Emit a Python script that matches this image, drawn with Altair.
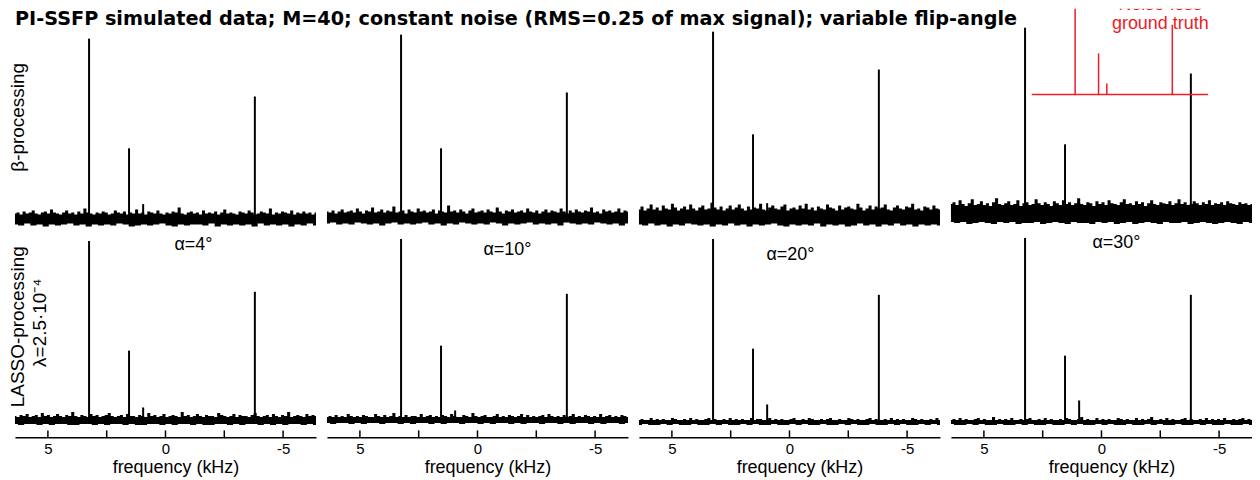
import altair as alt
import numpy as np
import pandas as pd

FONT = "Liberation Sans"
RED = "#ed1c24"

TITLE = "PI-SSFP simulated data; M=40; constant noise (RMS=0.25 of max signal); variable flip-angle"
ALPHAS = ["α=4°", "α=10°", "α=20°", "α=30°"]
ROW_TOP = "β-processing"
ROW_BOT_1 = "LASSO-processing"
ROW_BOT_2 = "λ=2.5·10⁻⁴"
X_TITLE = "frequency (kHz)"
X_LABELS = [5, 0, -5]
X_TICKS = [5, 2.5, 0, -2.5, -5]
F_LEFT, F_RIGHT = 6.4, -6.4

# peak frequencies (kHz)
PEAK_FREQ = [3.25, 1.55, 0.95, -3.8]
# noise-less ground truth amplitudes (inset, arbitrary units)
TRUTH_AMP = [115, 41, 11, 70]
TRUTH_TEXT = ["Noise-less", "ground truth"]

# beta-processing row (arbitrary units)
TOP_BASE = [9.5, 10.5, 10.5, 14]
TOP_PEAKS = [[190, 80, 24, 132], [194, 80, 16, 136], [197, 94, 25, 159], [201, 84, 26, 155]]
# LASSO row
BOT_BASE = [7.5, 7.5, 5.5, 5.5]
BOT_PEAKS = [[187, 77, 20, 136], [189, 82, 17, 134], [189, 79, 23, 133], [190, 72, 27, 133]]

# noise envelopes: upper excursion above baseline
TOP_HI = [
    [5, 6, 4, 7, 5, 6, 8, 5, 4, 6, 7, 5, 9, 6, 5, 4, 6, 8, 5, 6, 4, 7, 5, 10, 6, 5, 4, 6, 5, 7,
     6, 4, 5, 8, 6, 5, 7, 4, 6, 5, 9, 5, 6, 4, 7, 6, 5, 8, 5, 4, 6, 5, 7, 6, 11, 5, 4, 6, 7, 5,
     6, 4, 8, 5, 6, 5, 7, 4, 6, 9, 5, 6, 5, 4, 7, 6, 5, 8, 6, 4, 5, 7, 6, 5, 10, 4, 6, 5, 7, 6,
     5, 8, 4, 6, 5, 7, 5, 6, 4, 6],
    [6, 5, 7, 4, 6, 8, 5, 6, 7, 5, 9, 6, 4, 7, 6, 10, 5, 6, 8, 5, 7, 6, 11, 5, 6, 7, 4, 8, 6, 5,
     9, 6, 7, 5, 6, 8, 4, 7, 6, 5, 12, 6, 7, 5, 8, 6, 4, 7, 9, 5, 6, 7, 5, 8, 6, 5, 10, 6, 4, 7,
     6, 8, 5, 6, 7, 5, 9, 6, 5, 7, 4, 6, 8, 5, 7, 6, 5, 9, 6, 4, 7, 5, 8, 6, 5, 7, 6, 10, 5, 6,
     4, 8, 6, 7, 5, 6, 9, 5, 7, 6],
    [8, 11, 7, 9, 13, 8, 10, 7, 12, 9, 8, 14, 10, 7, 9, 11, 8, 13, 9, 7, 10, 12, 8, 9, 15, 10, 8, 11, 7, 9,
     12, 8, 10, 13, 9, 7, 11, 8, 10, 9, 14, 8, 7, 10, 12, 9, 8, 11, 13, 7, 9, 10, 8, 12, 9, 14, 8, 10, 7, 11,
     9, 8, 13, 10, 9, 7, 12, 8, 10, 11, 9, 8, 14, 10, 7, 9, 12, 8, 11, 9, 10, 13, 8, 7, 10, 12, 9, 8, 11, 10,
     14, 8, 9, 7, 11, 10, 8, 12, 9, 8],
    [10, 12, 9, 14, 10, 8, 11, 15, 9, 10, 13, 9, 11, 8, 12, 16, 10, 9, 11, 13, 9, 10, 14, 8, 11, 12, 9, 10, 15, 11,
     9, 12, 10, 8, 13, 11, 9, 14, 10, 12, 9, 11, 16, 10, 9, 12, 11, 8, 13, 10, 12, 9, 14, 11, 10, 9, 12, 15, 10, 11,
     9, 13, 10, 12, 8, 11, 14, 10, 9, 12, 11, 10, 13, 9, 11, 15, 10, 12, 9, 10, 13, 11, 9, 12, 10, 14, 9, 11, 10, 12,
     9, 13, 11, 10, 9, 12, 10, 11, 9, 10],
]
# noise envelopes: lower excursion below baseline
TOP_LO = [
    [6, 7, 5, 7, 6, 8, 6, 7, 6, 5, 7, 6, 8, 6, 7, 6, 7, 5, 6, 8, 7, 6, 7, 6, 5,
     7, 8, 6, 7, 6, 6, 7, 5, 8, 6, 7, 6, 7, 6, 8, 5, 7, 6, 7, 6, 8, 6, 7, 5, 7],
    [6, 5, 7, 6, 7, 5, 6, 7, 6, 8, 6, 5, 7, 6, 7, 6, 5, 7, 6, 8, 6, 7, 5, 6, 7,
     6, 7, 5, 6, 8, 6, 7, 6, 5, 7, 6, 7, 6, 8, 5, 6, 7, 6, 7, 5, 6, 7, 6, 8, 6],
    [7, 8, 6, 8, 7, 9, 7, 8, 6, 7, 8, 7, 9, 7, 8, 6, 8, 7, 9, 7, 8, 7, 6, 8, 9,
     7, 8, 7, 8, 6, 9, 7, 8, 7, 9, 8, 6, 8, 7, 9, 7, 8, 6, 8, 7, 9, 7, 8, 7, 8],
    [8, 9, 8, 10, 9, 8, 9, 10, 8, 9, 8, 10, 9, 9, 8, 10, 9, 8, 9, 10, 8, 9, 9, 10, 8,
     9, 8, 10, 9, 8, 10, 9, 8, 9, 10, 8, 9, 9, 8, 10, 9, 8, 9, 10, 9, 8, 9, 10, 8, 9],
]
BOT_HI = [
    [4, 3, 5, 4, 6, 3, 4, 5, 3, 7, 4, 5, 3, 4, 6, 4, 3, 5, 4, 8, 4, 3, 5, 4, 3, 6, 4, 5, 3, 4,
     5, 7, 4, 3, 4, 5, 3, 6, 4, 4, 3, 5, 4, 3, 7, 4, 5, 3, 4, 6, 3, 4, 5, 4, 3, 8, 4, 5, 3, 4,
     6, 4, 3, 5, 4, 4, 3, 7, 5, 4, 3, 4, 6, 3, 5, 4, 4, 3, 5, 7, 4, 3, 4, 5, 3, 6, 4, 3, 5, 4,
     8, 3, 4, 5, 4, 3, 6, 4, 5, 4],
    [3, 4, 3, 5, 3, 4, 3, 6, 4, 3, 4, 3, 5, 4, 3, 3, 6, 4, 3, 5, 3, 4, 7, 3, 4, 3, 5, 3, 4, 4,
     3, 6, 3, 4, 5, 3, 4, 3, 5, 4, 3, 6, 4, 3, 3, 5, 4, 3, 7, 4, 3, 4, 5, 3, 3, 4, 6, 3, 4, 3,
     5, 4, 3, 4, 6, 3, 5, 3, 4, 3, 4, 5, 3, 6, 4, 3, 4, 3, 5, 3, 4, 6, 3, 4, 3, 5, 4, 3, 4, 3,
     6, 3, 4, 5, 3, 4, 3, 5, 4, 3],
    [2, 3, 2, 2, 4, 2, 3, 2, 3, 2, 2, 4, 3, 2, 2, 3, 2, 4, 2, 3, 2, 2, 3, 4, 2, 3, 2, 2, 3, 2,
     4, 2, 3, 2, 3, 2, 2, 4, 2, 3, 3, 2, 2, 4, 2, 3, 2, 3, 2, 2, 3, 4, 2, 2, 3, 2, 4, 3, 2, 2,
     3, 2, 3, 4, 2, 2, 3, 2, 2, 4, 3, 2, 3, 2, 2, 3, 4, 2, 3, 2, 2, 3, 2, 4, 2, 3, 2, 3, 2, 2,
     4, 3, 2, 3, 2, 2, 3, 2, 4, 2],
    [2, 3, 2, 4, 2, 3, 2, 2, 3, 4, 2, 3, 2, 2, 5, 2, 3, 2, 3, 2, 4, 2, 2, 3, 2, 3, 4, 2, 2, 3,
     2, 4, 2, 3, 2, 2, 3, 2, 4, 3, 2, 2, 3, 5, 2, 3, 2, 2, 4, 2, 3, 2, 3, 2, 2, 4, 3, 2, 3, 2,
     2, 4, 2, 3, 2, 3, 5, 2, 2, 3, 2, 4, 2, 3, 2, 2, 3, 4, 2, 3, 2, 2, 3, 2, 4, 2, 3, 2, 3, 2,
     4, 2, 2, 3, 2, 3, 4, 2, 3, 2],
]
BOT_LO = [
    [4, 5, 4, 4, 5, 4, 5, 4, 4, 5, 5, 4, 4, 5, 4, 5, 4, 4, 5, 4, 5, 5, 4, 4, 5,
     4, 5, 4, 4, 5, 4, 5, 5, 4, 4, 5, 4, 5, 4, 4, 5, 4, 5, 4, 5, 4, 4, 5, 4, 5],
    [3, 4, 3, 3, 4, 3, 4, 3, 3, 4, 3, 3, 4, 3, 4, 3, 3, 4, 3, 4, 3, 3, 4, 3, 3,
     4, 3, 4, 3, 3, 4, 3, 4, 3, 3, 4, 3, 3, 4, 3, 4, 3, 3, 4, 3, 4, 3, 3, 4, 3],
    [3, 2, 3, 3, 2, 3, 2, 3, 3, 2, 3, 3, 2, 3, 2, 3, 3, 2, 3, 2, 3, 3, 2, 3, 3,
     2, 3, 2, 3, 3, 2, 3, 3, 2, 3, 2, 3, 3, 2, 3, 3, 2, 3, 2, 3, 3, 2, 3, 2, 3],
    [2, 3, 3, 2, 3, 2, 3, 3, 2, 3, 3, 2, 3, 2, 3, 3, 2, 3, 3, 2, 3, 2, 3, 3, 2,
     3, 2, 3, 3, 2, 3, 3, 2, 3, 2, 3, 3, 2, 3, 3, 2, 3, 2, 3, 3, 2, 3, 3, 2, 3],
]

# ---- layout constants (pixels) ----
W_FIRST, W = 309, 302
H_TOP, H_BOT = 220, 196
AX_OFF, TICK_LEN = 10, 7
ALPHA_POS = [(186, 13), (181, 18), (152, 23), (166, 11)]


def text_layer(txt, x, y, size, color="black", angle=0, weight="normal", align="center",
               baseline="middle", font=FONT, clip=False):
    return alt.Chart(pd.DataFrame({"t": [txt]})).mark_text(
        font=font, fontSize=size, color=color, angle=angle, fontWeight=weight,
        align=align, baseline=baseline, clip=clip,
    ).encode(text="t:N", x=alt.value(x), y=alt.value(y))


def panel(row, i):
    width = W_FIRST if i == 0 else W
    height = H_TOP if row == 0 else H_BOT
    base = (TOP_BASE if row == 0 else BOT_BASE)[i]
    hi = (TOP_HI if row == 0 else BOT_HI)[i]
    lo = (TOP_LO if row == 0 else BOT_LO)[i]
    pk = (TOP_PEAKS if row == 0 else BOT_PEAKS)[i]

    xs = alt.Scale(domain=[F_LEFT, F_RIGHT], range=[7, width] if i == 0 else [0, width],
                   nice=False, zero=False)
    ys = alt.Scale(domain=[0, height], nice=False, zero=False)

    if row == 1:
        zero_px = (7 + width) / 2 if i == 0 else width / 2
        ax = alt.Axis(values=X_LABELS, ticks=False, grid=False, domainColor="black",
                      domainWidth=1.5, labelFont=FONT, labelFontSize=15, labelColor="black",
                      labelPadding=4, labelExpr="datum.value + ''", labelFlush=False,
                      title=X_TITLE, titleFont=FONT, titleFontSize=18, titleFontWeight="normal",
                      titleColor="black", titlePadding=2, titleX=zero_px + 10, offset=AX_OFF)
    else:
        ax = None

    df_hi = pd.DataFrame({"f": np.linspace(F_LEFT, F_RIGHT, len(hi)),
                          "top": base + np.array(hi, dtype=float), "base": base - 1})
    df_lo = pd.DataFrame({"f": np.linspace(F_LEFT, F_RIGHT, len(lo)),
                          "bot": base - np.array(lo, dtype=float), "base": base + 1})
    df_pk = pd.DataFrame({"f": PEAK_FREQ, "tip": pk, "base": base})

    layers = [
        alt.Chart(df_hi).mark_area(color="black", interpolate="step").encode(
            x=alt.X("f:Q", scale=xs, axis=ax), y=alt.Y("top:Q", scale=ys, axis=None), y2="base:Q"),
        alt.Chart(df_lo).mark_area(color="black", interpolate="step").encode(
            x=alt.X("f:Q", scale=xs, axis=ax), y=alt.Y("bot:Q", scale=ys, axis=None), y2="base:Q"),
        alt.Chart(df_pk).mark_rule(color="black", strokeWidth=2).encode(
            x=alt.X("f:Q", scale=xs, axis=ax), y=alt.Y("tip:Q", scale=ys, axis=None), y2="base:Q"),
    ]
    if row == 1:
        layers.append(
            alt.Chart(pd.DataFrame({"f": X_TICKS})).mark_rule(color="black", strokeWidth=1.5).encode(
                x=alt.X("f:Q", scale=xs, axis=ax),
                y=alt.value(height + AX_OFF - TICK_LEN), y2=alt.value(height + AX_OFF)))
        ax_, ay_ = ALPHA_POS[i]
        layers.append(text_layer(ALPHAS[i], ax_, ay_, 18))
        if i == 0:
            layers.append(text_layer(ROW_BOT_1, 10, 95, 19, angle=270))
            layers.append(text_layer(ROW_BOT_2, 32, 91, 19, angle=270))
    else:
        if i == 0:
            layers.append(text_layer(TITLE, 7, 16, 19.3, weight="bold", align="left",
                                     baseline="alphabetic", font="DejaVu Sans"))
            layers.append(text_layer(ROW_TOP, 10, 109, 19, angle=270))

    main = alt.layer(*layers)

    if row == 0 and i == 3:
        ixs = alt.Scale(domain=[F_LEFT, F_RIGHT], range=[81, 258], nice=False, zero=False)
        iys = alt.Scale(domain=[0, 86], range=[86, 0], nice=False, zero=False)
        df_t = pd.DataFrame({"f": PEAK_FREQ, "a": TRUTH_AMP, "z": 0})
        df_b = pd.DataFrame({"f0": [F_LEFT], "f1": [F_RIGHT], "z": [0]})
        inset = alt.layer(
            alt.Chart(df_b).mark_rule(color=RED, strokeWidth=1.5).encode(
                x=alt.X("f0:Q", scale=ixs, axis=None), x2="f1:Q",
                y=alt.Y("z:Q", scale=iys, axis=None)),
            alt.Chart(df_t).mark_rule(color=RED, strokeWidth=1.5, clip=True).encode(
                x=alt.X("f:Q", scale=ixs, axis=None),
                y=alt.Y("a:Q", scale=iys, axis=None), y2="z:Q"),
            text_layer(TRUTH_TEXT[0], 210, -4, 18, color=RED, clip=True),
            text_layer(TRUTH_TEXT[1], 210, 15, 18, color=RED),
        )
        main = alt.layer(main, inset).resolve_scale(x="independent", y="independent")

    return main.properties(width=width, height=height)


panels = [panel(0, i) for i in range(4)] + [panel(1, i) for i in range(4)]
chart = alt.concat(*panels, columns=4, spacing={"row": 4, "column": 11},
                   bounds="flush", align="each").properties(
    padding={"left": 0, "top": 0, "right": 0, "bottom": 0}
).configure_view(strokeWidth=0)

chart.save("out.html", embed_options={"renderer": "svg", "actions": False})
